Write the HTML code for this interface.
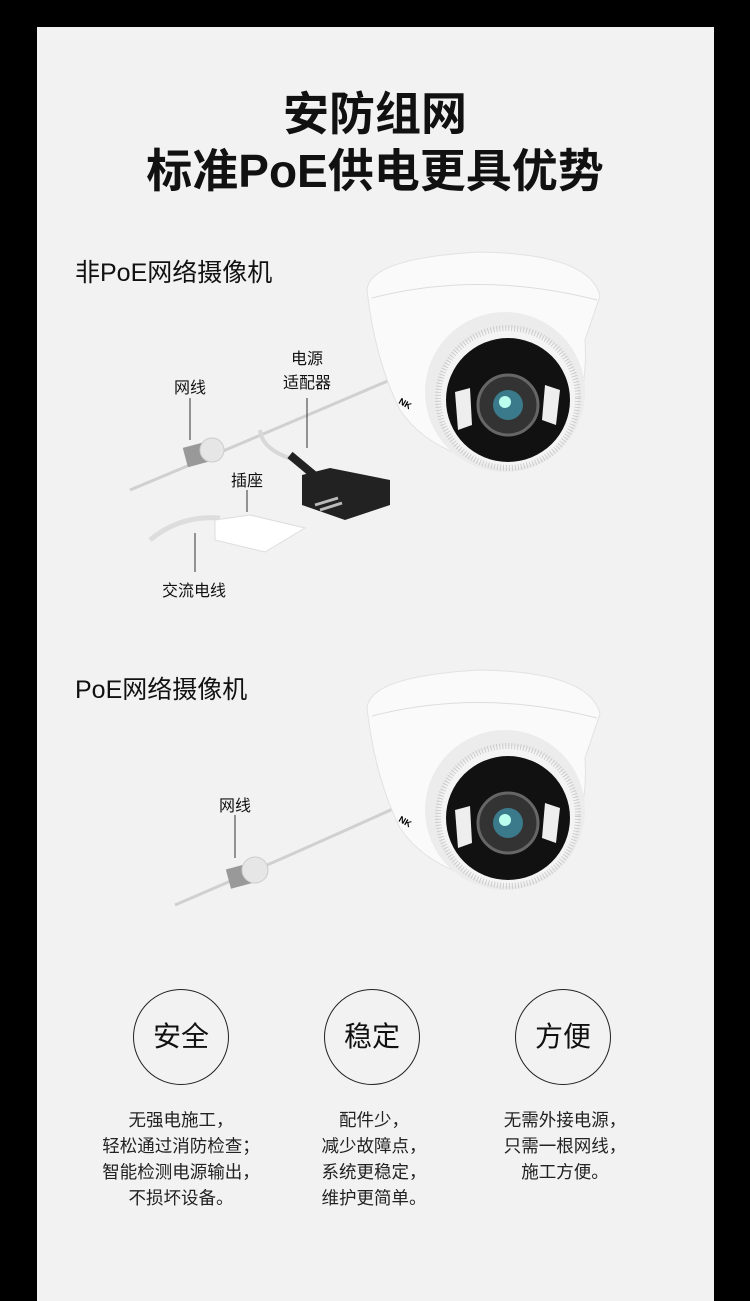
<!DOCTYPE html>
<html><head><meta charset="utf-8"><style>
*{margin:0;padding:0;box-sizing:border-box}
body{width:750px;height:1301px;background:#000;position:relative;overflow:hidden;font-family:"Liberation Sans","Noto Sans CJK SC",sans-serif;color:#111}
#p{position:absolute;left:37px;top:27px;width:677px;height:1274px;background:#f2f2f2}
.t{position:absolute;white-space:nowrap}
.c{text-align:center;transform:translateX(-50%)}
.circ{position:absolute;width:96px;height:96px;border:1.5px solid #222;border-radius:50%;font-size:28px;line-height:93px;text-align:center}
.d{position:absolute;font-size:17.5px;line-height:26px;text-align:center;transform:translateX(-50%);white-space:nowrap;color:#222}
</style></head><body><div id="p"></div>
<svg width="750" height="1301" style="position:absolute;left:0;top:0">
<defs>
<g id="cam">
<path d="M367 290 Q370 258 480 252 Q590 254 600 296 L585 340 Q590 420 540 460 Q500 470 460 455 Q420 440 400 410 Q375 360 367 290 Z" fill="#fafafa" stroke="#e2e2e2"/>
<path d="M372 298 Q480 270 597 300" fill="none" stroke="#ddd"/>
<circle cx="505" cy="392" r="80" fill="#ececec"/>
<circle cx="508" cy="398" r="70" fill="#f4f4f4" stroke="#ccc" stroke-dasharray="1 2" stroke-width="6"/>
<circle cx="508" cy="400" r="62" fill="#111"/>
<path d="M455 392 L470 388 L472 425 L458 430 Z" fill="#eee"/>
<path d="M545 385 L560 390 L556 425 L542 420 Z" fill="#eee"/>
<circle cx="508" cy="405" r="30" fill="#333" stroke="#666" stroke-width="3"/>
<circle cx="508" cy="405" r="15" fill="#3a7a8a"/>
<circle cx="505" cy="402" r="6" fill="#bfe"/>
<text x="398" y="403" font-size="9" font-weight="bold" transform="rotate(30 398 403)">NK</text>
</g>
</defs>
<path d="M130 490 Q250 440 390 380" stroke="#d0d0d0" stroke-width="3" fill="none"/>
<path d="M260 430 Q262 450 295 460" stroke="#d8d8d8" stroke-width="4" fill="none"/>
<path d="M290 455 L320 480" stroke="#222" stroke-width="8"/>
<path d="M302 475 L330 468 L390 480 L390 505 L345 520 L302 505 Z" fill="#222"/>
<path d="M315 505 L338 498 M320 510 L342 503" stroke="#bbb" stroke-width="3"/>
<path d="M150 540 Q180 515 220 518" stroke="#ddd" stroke-width="5" fill="none"/>
<path d="M215 520 L250 515 L305 528 L265 552 L215 540 Z" fill="#fff" stroke="#ddd"/>
<rect x="185" y="445" width="22" height="20" fill="#999" transform="rotate(-15 195 455)"/>
<circle cx="212" cy="450" r="12" fill="#e6e6e6" stroke="#ccc"/>
<line x1="190" y1="398" x2="190" y2="440" stroke="#333"/>
<line x1="307" y1="398" x2="307" y2="448" stroke="#333"/>
<line x1="247" y1="490" x2="247" y2="512" stroke="#333"/>
<line x1="195" y1="533" x2="195" y2="572" stroke="#333"/>
<use href="#cam"/>
<path d="M175 905 Q280 860 395 808" stroke="#d0d0d0" stroke-width="3" fill="none"/>
<rect x="228" y="866" width="24" height="20" fill="#999" transform="rotate(-15 240 876)"/>
<circle cx="255" cy="870" r="13" fill="#e6e6e6" stroke="#ccc"/>
<line x1="235" y1="815" x2="235" y2="858" stroke="#333"/>
<use href="#cam" transform="translate(0 418)"/>
</svg>
<div class="t c" style="left:375px;top:86px;font-size:46px;font-weight:bold;line-height:57px">安防组网<br>标准PoE供电更具优势</div>
<div class="t" style="left:75px;top:253px;font-size:25px">非PoE网络摄像机</div>
<div class="t" style="left:75px;top:670px;font-size:25px">PoE网络摄像机</div>
<div class="t c" style="left:190px;top:374px;font-size:16px">网线</div>
<div class="t c" style="left:307px;top:348px;font-size:16px;line-height:24px;text-align:center">电源<br>适配器</div>
<div class="t c" style="left:247px;top:467px;font-size:16px">插座</div>
<div class="t c" style="left:194px;top:577px;font-size:16px">交流电线</div>
<div class="t c" style="left:235px;top:792px;font-size:16px">网线</div>
<div class="circ" style="left:133px;top:989px">安全</div>
<div class="circ" style="left:324px;top:989px">稳定</div>
<div class="circ" style="left:515px;top:989px">方便</div>
<div class="d" style="left:181px;top:1107px">无强电施工，<br>轻松通过消防检查；<br>智能检测电源输出，<br>不损坏设备。</div>
<div class="d" style="left:374px;top:1107px">配件少，<br>减少故障点，<br>系统更稳定，<br>维护更简单。</div>
<div class="d" style="left:565px;top:1107px">无需外接电源，<br>只需一根网线，<br>施工方便。</div>
</body></html>
